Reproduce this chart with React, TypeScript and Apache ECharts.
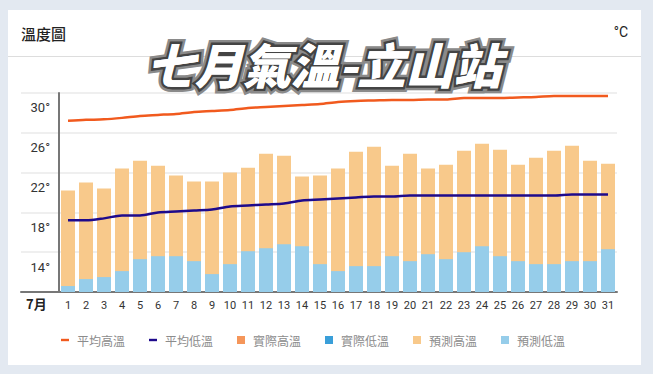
import React, { useEffect, useRef } from "react";
import * as echarts from "echarts";

const days = Array.from({ length: 31 }, (_, i) => String(i + 1));
const avgHigh = [28.7, 28.8, 28.85, 29.0, 29.2, 29.3, 29.4, 29.6, 29.7, 29.8, 30.0, 30.1, 30.2, 30.3, 30.4, 30.6, 30.7, 30.75, 30.8, 30.8, 30.85, 30.85, 31.0, 31.0, 31.0, 31.05, 31.1, 31.2, 31.2, 31.2, 31.2];
const avgLow = [18.7, 18.7, 18.9, 19.2, 19.2, 19.5, 19.6, 19.7, 19.8, 20.1, 20.2, 20.3, 20.4, 20.7, 20.8, 20.9, 21.0, 21.1, 21.1, 21.2, 21.2, 21.2, 21.2, 21.2, 21.2, 21.2, 21.2, 21.2, 21.3, 21.3, 21.3];
const actualHigh: number[] = [];
const actualLow: number[] = [];
const forecastHigh = [21.7, 22.5, 21.9, 23.9, 24.7, 24.2, 23.2, 22.6, 22.6, 23.5, 24.0, 25.4, 25.2, 23.1, 23.2, 23.9, 25.6, 26.1, 24.2, 25.4, 23.9, 24.3, 25.7, 26.4, 25.8, 24.3, 25.0, 25.7, 26.2, 24.7, 24.4];
const forecastLow = [12.1, 12.8, 13.0, 13.6, 14.8, 15.1, 15.1, 14.6, 13.3, 14.3, 15.6, 15.9, 16.3, 16.1, 14.3, 13.6, 14.1, 14.1, 15.1, 14.6, 15.3, 14.8, 15.5, 16.1, 15.1, 14.6, 14.3, 14.3, 14.6, 14.6, 15.8];
const yTickLabels = [14, 18, 22, 26, 30];

const NUM_FONT = '"Liberation Sans Narrow", "Roboto", sans-serif';
const CJK_FONT = '"Noto Sans CJK TC", "Noto Sans", sans-serif';

export default function App() {
  const ref = useRef<HTMLDivElement>(null);
  useEffect(() => {
    if (!ref.current) return;
    const chart = echarts.init(ref.current, null, { renderer: "svg" });
    const lineIcon = "path://M0 0H10V3H0Z";
    const titleFont = `italic 900 48px ${CJK_FONT}`;
    const option: any = {
      animation: false,
      backgroundColor: "#e3e9f1",
      graphic: [
        { type: "rect", shape: { x: 8, y: 10, width: 633, height: 355 }, style: { fill: "#ffffff" }, z: -10 },
        { type: "line", shape: { x1: 8, y1: 56.5, x2: 641, y2: 56.5 }, style: { stroke: "#dddddd", lineWidth: 1 }, z: -5 },
        { type: "text", x: 21, y: 33.5, style: { text: "溫度圖", font: `500 15px ${CJK_FONT}`, fill: "#222", textVerticalAlign: "middle" } },
        { type: "text", x: 628, y: 32, style: { text: "°C", font: `14px ${NUM_FONT}`, fill: "#222", textAlign: "right", textVerticalAlign: "middle" } },
        { type: "text", x: 26, y: 303, style: { text: "7月", font: `bold 13px ${CJK_FONT}`, fill: "#222", textVerticalAlign: "middle" } },
        { type: "text", x: 324, y: 63, z: 10, style: { text: "七月氣溫-立山站", font: titleFont, fill: "#ffffff", stroke: "#8a8a8a", lineWidth: 10, textAlign: "center", textVerticalAlign: "middle" } },
        { type: "text", x: 324, y: 63, z: 11, style: { text: "七月氣溫-立山站", font: titleFont, fill: "#ffffff", stroke: "#444444", lineWidth: 5, textAlign: "center", textVerticalAlign: "middle" } },
        { type: "text", x: 324, y: 63, z: 12, style: { text: "七月氣溫-立山站", font: titleFont, fill: "#ffffff", textAlign: "center", textVerticalAlign: "middle" } },
      ],
      legend: {
        left: 61,
        top: 334,
        padding: 0,
        itemWidth: 8,
        itemHeight: 8,
        itemGap: 24,
        textStyle: { color: "#8c8c8c", fontSize: 12, fontFamily: CJK_FONT, padding: [0, 0, 0, 3] },
        data: [
          { name: "平均高溫", icon: lineIcon },
          { name: "平均低溫", icon: lineIcon },
          { name: "實際高溫", icon: "rect" },
          { name: "實際低溫", icon: "rect" },
          { name: "預測高溫", icon: "rect" },
          { name: "預測低溫", icon: "rect" },
        ],
      },
      grid: [
        { left: 21, right: 36, top: 93, bottom: 82 },
        { left: 59, right: 36, top: 93, bottom: 82 },
      ],
      xAxis: [
        {
          gridIndex: 0, type: "value", min: 0, max: 1,
          axisLine: { show: true, onZero: false, lineStyle: { color: "#777", width: 2 } },
          axisTick: { show: false }, axisLabel: { show: false }, splitLine: { show: false },
        },
        {
          gridIndex: 1, type: "category", data: days, boundaryGap: true,
          axisLine: { show: false }, axisTick: { show: false },
          axisLabel: { color: "#333", fontSize: 11, fontFamily: NUM_FONT, margin: 8, interval: 0 },
        },
      ],
      yAxis: [
        {
          gridIndex: 0, type: "value", min: 11.5, max: 31.5, interval: 4,
          axisLine: { show: false }, axisTick: { show: false }, axisLabel: { show: false },
          splitLine: { show: true, lineStyle: { color: "#efefef", width: 2 } },
        },
        {
          gridIndex: 1, type: "value", min: 11.5, max: 31.5, interval: 0.5,
          axisLine: { show: true, lineStyle: { color: "#777", width: 2 } },
          axisTick: { show: false }, splitLine: { show: false },
          axisLabel: {
            color: "#333", fontSize: 13, fontFamily: NUM_FONT, margin: 9,
            formatter: (v: number) => {
              const r = Math.round(v);
              return Math.abs(v - r) < 1e-6 && yTickLabels.includes(r) ? `${r}°` : "";
            },
          },
        },
      ],
      series: [
        {
          name: "預測高溫", type: "bar", xAxisIndex: 1, yAxisIndex: 1, data: forecastHigh,
          barWidth: 14, barGap: "-100%", itemStyle: { color: "#f8c98b" }, z: 2,
        },
        {
          name: "預測低溫", type: "bar", xAxisIndex: 1, yAxisIndex: 1, data: forecastLow,
          barWidth: 14, barGap: "-100%", itemStyle: { color: "#96cdea" }, z: 3,
        },
        {
          name: "實際高溫", type: "bar", xAxisIndex: 1, yAxisIndex: 1, data: actualHigh,
          barWidth: 14, barGap: "-100%", itemStyle: { color: "#f5965a" }, z: 2,
        },
        {
          name: "實際低溫", type: "bar", xAxisIndex: 1, yAxisIndex: 1, data: actualLow,
          barWidth: 14, barGap: "-100%", itemStyle: { color: "#3a9fd9" }, z: 3,
        },
        {
          name: "平均高溫", type: "line", xAxisIndex: 1, yAxisIndex: 1, data: avgHigh,
          showSymbol: false, smooth: 0.3, z: 5,
          itemStyle: { color: "#f15a1e" }, lineStyle: { color: "#f15a1e", width: 2.5 },
        },
        {
          name: "平均低溫", type: "line", xAxisIndex: 1, yAxisIndex: 1, data: avgLow,
          showSymbol: false, smooth: 0.3, z: 5,
          itemStyle: { color: "#1e0a8c" }, lineStyle: { color: "#1e0a8c", width: 2.5 },
        },
      ],
    };
    chart.setOption(option);
    return () => chart.dispose();
  }, []);
  return <div ref={ref} style={{ position: "fixed", left: 0, top: 0, width: 653, height: 374 }} />;
}
